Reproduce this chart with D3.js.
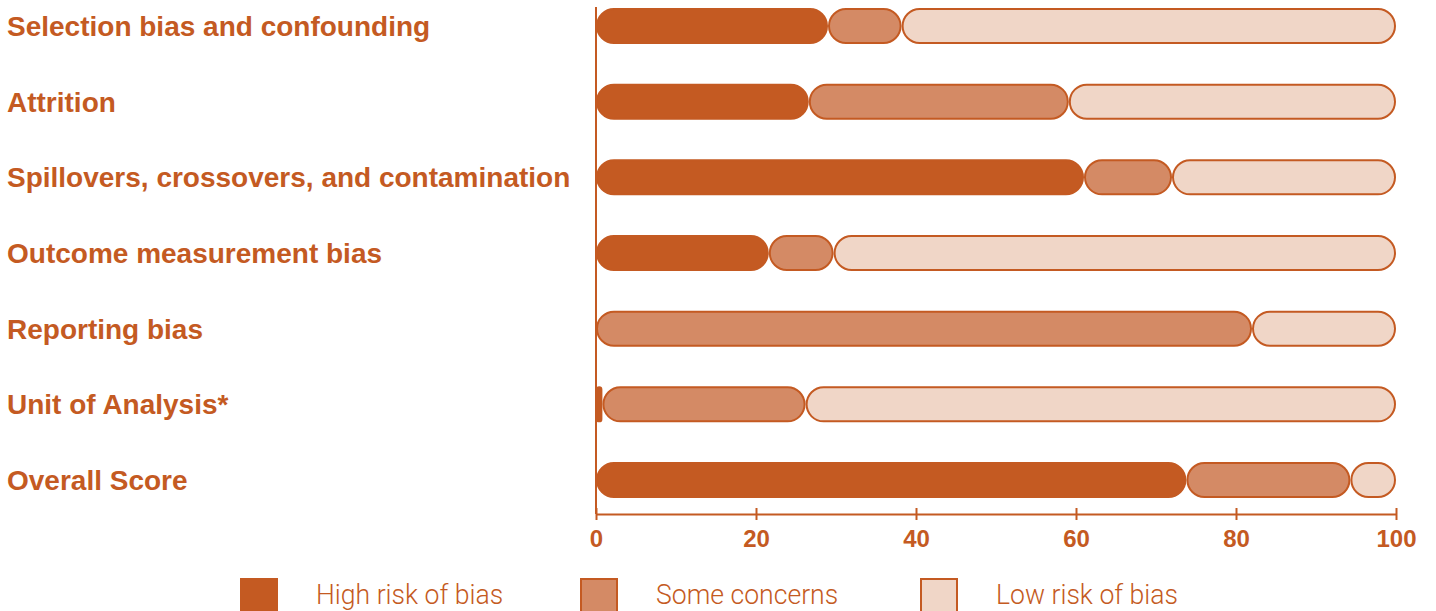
<!DOCTYPE html>
<html><head><meta charset="utf-8">
<script src="https://cdn.jsdelivr.net/npm/d3@7"></script>
<style>
html,body{margin:0;padding:0;background:#fff;}
svg{display:block;}
</style></head>
<body>
<svg id="chart" width="1436" height="611"></svg>
<script>
const categories = [
  "Selection bias and confounding",
  "Attrition",
  "Spillovers, crossovers, and contamination",
  "Outcome measurement bias",
  "Reporting bias",
  "Unit of Analysis*",
  "Overall Score"
];
const highRisk      = [29, 26.6, 61, 21.6, 0, 0.8, 73.8];
const someConcerns  = [9.2, 32.5, 11, 8.1, 82, 25.4, 20.5];
const lowRisk       = [61.8, 40.9, 28, 70.3, 18, 73.8, 5.7];
const seriesNames   = ["High risk of bias", "Some concerns", "Low risk of bias"];
const seriesColors  = ["#c45a22", "#d48a65", "#f0d6c7"];
const tickValues    = [0, 20, 40, 60, 80, 100];

const dark = "#c45a22";
const svg = d3.select("#chart");

const x = d3.scaleLinear().domain([0, 100]).range([596, 1396]);
const y = d3.scalePoint().domain(categories).range([26, 480]);
const barH = 34;

const rows = categories.map((c, i) => ({cat: c, high: highRisk[i], some: someConcerns[i], low: lowRisk[i]}));
const keys = ["high", "some", "low"];
const stack = d3.stack().keys(keys)(rows);

// bars
stack.forEach((layer, li) => {
  svg.append("g").selectAll("rect").data(layer.filter(d => d[1] - d[0] > 0)).join("rect")
    .attr("x", d => x(d[0]) + 1)
    .attr("y", d => y(d.data.cat) - barH / 2)
    .attr("width", d => Math.max(0.5, x(d[1]) - x(d[0]) - 2))
    .attr("height", barH)
    .attr("rx", d => Math.min(barH / 2, Math.max(0.5, x(d[1]) - x(d[0]) - 2) / 2))
    .attr("fill", seriesColors[li])
    .attr("stroke", dark)
    .attr("stroke-width", 2);
});

// y axis line
svg.append("line").attr("x1", x(0)).attr("x2", x(0)).attr("y1", 7).attr("y2", 514)
  .attr("stroke", dark).attr("stroke-width", 2);

// x axis
const xAxis = d3.axisBottom(x).tickValues(tickValues).tickSize(6).tickSizeOuter(0).tickFormat(d3.format("d"));
const gx = svg.append("g").attr("transform", "translate(0,514)").call(xAxis);
gx.select(".domain").attr("stroke", dark).attr("stroke-width", 2);
gx.selectAll(".tick line").attr("stroke", dark).attr("stroke-width", 2).attr("y1", -6).attr("y2", 6);
gx.selectAll(".tick text").attr("fill", dark).attr("y", 16)
  .style("font-family", "'Liberation Sans', Arial, sans-serif").style("font-weight", "bold").style("font-size", "24px");

// category labels
svg.append("g").selectAll("text").data(categories).join("text")
  .attr("x", 7).attr("y", d => y(d)).attr("dy", "0.36em")
  .attr("fill", dark)
  .style("font-family", "'Liberation Sans', Arial, sans-serif").style("font-weight", "bold").style("font-size", "28px")
  .text(d => d);

// legend
const lg = svg.append("g").selectAll("g").data(seriesNames).join("g")
  .attr("transform", (d, i) => `translate(${240 + i * 340},578)`);
lg.append("rect").attr("x", 1).attr("y", 1).attr("width", 36).attr("height", 40)
  .attr("fill", (d, i) => seriesColors[i]).attr("stroke", dark).attr("stroke-width", 2);
lg.append("text").attr("transform", "translate(76,26) scale(0.95,1)")
  .attr("fill", dark)
  .style("font-family", "Roboto, 'Liberation Sans', Arial, sans-serif").style("font-weight", "300").style("font-size", "28px")
  .text(d => d);
</script>
</body></html>
